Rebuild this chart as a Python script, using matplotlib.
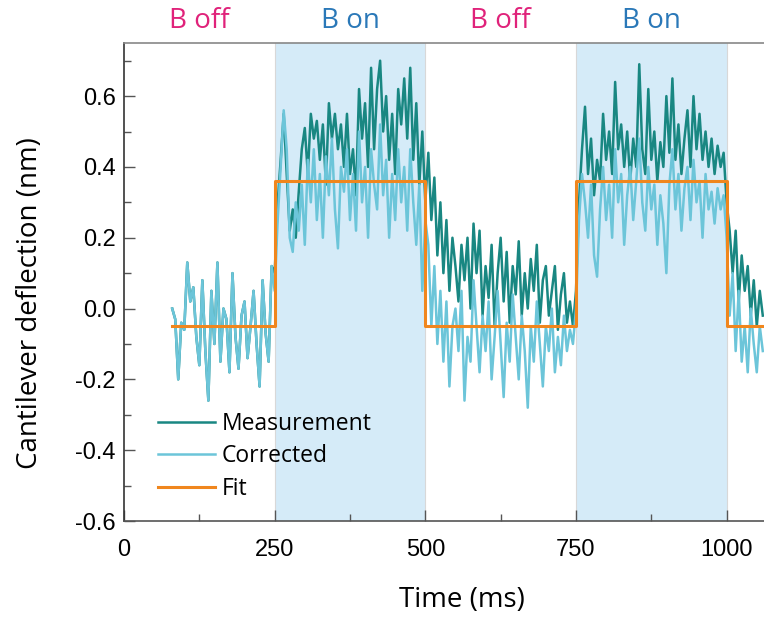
import numpy as np
import matplotlib
matplotlib.use('Agg')
import matplotlib.pyplot as plt
from matplotlib.ticker import MultipleLocator, FixedLocator

plt.rcParams['font.family'] = 'Open Sans'

# sampling grid of the trace (ms)
T_START, T_STOP, T_STEP = 80, 1060, 5
time_ms = np.arange(T_START, T_STOP + 1, T_STEP)

# raw cantilever deflection (nm), one row per 50 ms
measurement = [
    # 80-245 ms, B off
    0.00, -0.03, -0.20, -0.04, -0.06, 0.13, 0.02, 0.06, -0.08, -0.16,
    0.08, -0.12, -0.26, 0.05, -0.10, 0.13, -0.15, 0.00, -0.03, -0.18,
    0.10, -0.08, -0.17, -0.02, 0.02, -0.14, -0.05, 0.05, -0.10, -0.22,
    0.08, -0.07, -0.15, 0.12,
    # 250-495 ms, B on
    0.10, 0.30, 0.42, 0.55, 0.38, 0.22, 0.28, 0.20, 0.33, 0.45,
    0.51, 0.38, 0.55, 0.48, 0.53, 0.42, 0.52, 0.35, 0.58, 0.48,
    0.55, 0.45, 0.52, 0.40, 0.55, 0.38, 0.45, 0.32, 0.62, 0.48,
    0.58, 0.40, 0.68, 0.45, 0.62, 0.70, 0.50, 0.60, 0.42, 0.55,
    0.38, 0.62, 0.52, 0.65, 0.48, 0.68, 0.42, 0.58, 0.35, 0.50,
    # 500-745 ms, B off
    0.30, 0.44, 0.25, 0.37, 0.15, 0.30, 0.10, 0.25, 0.05, 0.20,
    0.12, 0.02, 0.18, 0.08, 0.20, 0.00, 0.24, 0.10, 0.22, -0.02,
    0.12, 0.03, 0.18, -0.05, 0.10, 0.20, 0.02, 0.16, -0.04, 0.12,
    0.04, 0.19, -0.02, 0.10, 0.00, 0.14, 0.05, 0.18, -0.04, 0.08,
    0.12, -0.02, 0.05, 0.12, -0.06, 0.04, 0.10, -0.04, 0.02, -0.05,
    # 750-995 ms, B on
    0.05, 0.30, 0.45, 0.57, 0.38, 0.48, 0.32, 0.42, 0.36, 0.55,
    0.42, 0.50, 0.38, 0.64, 0.45, 0.52, 0.40, 0.50, 0.36, 0.48,
    0.40, 0.69, 0.45, 0.38, 0.62, 0.42, 0.50, 0.36, 0.47, 0.40,
    0.60, 0.44, 0.65, 0.42, 0.52, 0.38, 0.48, 0.56, 0.40, 0.60,
    0.45, 0.55, 0.42, 0.50, 0.40, 0.48, 0.38, 0.46, 0.40, 0.44,
    # 1000-1060 ms, B off
    0.30, 0.22, 0.10, 0.22, 0.02, 0.15, 0.05, 0.12, -0.02, 0.08,
    -0.05, 0.05, -0.02,
]

# drift-corrected deflection (nm)
corrected = [
    # 80-245 ms
    0.00, -0.03, -0.20, -0.04, -0.06, 0.13, 0.02, 0.06, -0.08, -0.16,
    0.08, -0.12, -0.26, 0.05, -0.10, 0.13, -0.15, 0.00, -0.03, -0.18,
    0.10, -0.08, -0.17, -0.02, 0.02, -0.14, -0.05, 0.05, -0.10, -0.22,
    0.08, -0.07, -0.15, 0.12,
    # 250-495 ms
    0.05, 0.25, 0.40, 0.56, 0.45, 0.20, 0.16, 0.30, 0.22, 0.35,
    0.18, 0.42, 0.30, 0.45, 0.25, 0.38, 0.20, 0.43, 0.32, 0.48,
    0.28, 0.17, 0.40, 0.33, 0.45, 0.25, 0.38, 0.22, 0.50, 0.30,
    0.40, 0.20, 0.45, 0.35, 0.28, 0.52, 0.32, 0.42, 0.20, 0.38,
    0.25, 0.45, 0.30, 0.40, 0.22, 0.45, 0.30, 0.18, 0.35, 0.05,
    # 500-745 ms
    0.25, 0.18, -0.05, 0.12, -0.10, 0.05, -0.15, 0.02, -0.22, -0.05,
    0.00, -0.12, 0.05, -0.26, -0.08, -0.15, 0.08, -0.05, -0.18, -0.02,
    -0.12, 0.02, -0.20, -0.08, 0.05, -0.10, -0.25, -0.04, -0.15, 0.04,
    -0.08, -0.20, -0.02, -0.12, -0.28, -0.05, -0.15, 0.02, -0.10, -0.22,
    -0.05, -0.12, 0.00, -0.18, -0.08, -0.16, -0.02, -0.12, -0.06, -0.10,
    # 750-995 ms
    0.00, 0.25, 0.38, 0.30, 0.20, 0.35, 0.15, 0.09, 0.28, 0.40,
    0.25, 0.35, 0.20, 0.45, 0.30, 0.38, 0.18, 0.32, 0.40, 0.25,
    0.36, 0.48, 0.30, 0.22, 0.40, 0.28, 0.35, 0.18, 0.32, 0.24,
    0.10, 0.35, 0.45, 0.28, 0.38, 0.22, 0.34, 0.40, 0.25, 0.42,
    0.30, 0.36, 0.20, 0.38, 0.28, 0.33, 0.24, 0.34, 0.28, 0.32,
    # 1000-1060 ms
    0.20, -0.02, 0.10, -0.12, 0.05, -0.15, -0.05, -0.18, 0.00, -0.10,
    -0.18, -0.05, -0.12,
]

# square-wave fit
fit_edges = [80, 250, 500, 750, 1000, 1060]
fit_levels = [-0.048, 0.36, -0.048, 0.36, -0.048]

# field-on windows and labels
field_on = [(250, 500), (750, 1000)]
phase_labels = ['B off', 'B on', 'B off', 'B on']
phase_centers = [125, 375, 625, 875]

C_MEAS = '#198782'
C_CORR = '#6cc5d9'
C_FIT = '#f0861d'
C_SHADE = '#d5ebf8'
C_OFF = '#e0227a'
C_ON = '#2a78b8'

fig = plt.figure(figsize=(7.64, 6.17), dpi=100)
ax = fig.add_axes([124 / 764, 96 / 617, 1 - 124 / 764, 478 / 617])

for a, b in field_on:
    ax.axvspan(a, b, color=C_SHADE, lw=0, zorder=0)
    for edge in (a, b):
        ax.axvline(edge, color='#d8d8d8', lw=0.8, zorder=0.5)

ax.plot(time_ms, measurement, color=C_MEAS, lw=1.8, label='Measurement', zorder=2)
ax.plot(time_ms, corrected, color=C_CORR, lw=1.8, label='Corrected', zorder=3)
ax.step(fit_edges, fit_levels + fit_levels[-1:], where='post',
        color=C_FIT, lw=2.2, label='Fit', zorder=4)

ax.set_xlim(0, 1062)
ax.set_ylim(-0.6, 0.75)

ax.xaxis.set_major_locator(FixedLocator([0, 250, 500, 750, 1000]))
ax.xaxis.set_minor_locator(MultipleLocator(125))
ax.yaxis.set_major_locator(FixedLocator([-0.6, -0.4, -0.2, 0.0, 0.2, 0.4, 0.6]))
ax.yaxis.set_minor_locator(MultipleLocator(0.1))
ax.set_yticklabels(['-0.6', '-0.4', '-0.2', '0.0', '0.2', '0.4', '0.6'])

ax.tick_params(which='both', direction='in', color='#555555', width=1.0)
ax.tick_params(which='major', length=8, labelsize=17)
ax.tick_params(which='minor', length=5)
ax.tick_params(axis='y', which='major', pad=6)
ax.tick_params(axis='x', which='major', pad=13)
for lbl in ax.get_xticklabels() + ax.get_yticklabels():
    lbl.set_family('Liberation Sans')

ax.spines['right'].set_visible(False)
ax.spines['left'].set_color('#333333')
ax.spines['bottom'].set_color('#555555')
ax.spines['top'].set_color('#888888')
for s in ('left', 'bottom', 'top'):
    ax.spines[s].set_linewidth(1.2)

ax.set_xlabel('Time (ms)', fontsize=20, labelpad=18, x=0.528)
ax.set_ylabel('Cantilever deflection (nm)', fontsize=20, labelpad=22, y=0.455)

for text, xc in zip(phase_labels, phase_centers):
    col = C_OFF if text == 'B off' else C_ON
    ax.text(xc, 1.046, text, color=col, fontsize=20, ha='center', va='center',
            transform=ax.get_xaxis_transform())

ax.legend(loc='upper left', bbox_to_anchor=(0.053, 0.228), frameon=False,
          fontsize=16.5, handlelength=2.5, handletextpad=0.3,
          labelspacing=0.37, borderpad=0, borderaxespad=0)

fig.savefig('out.png', dpi=100, facecolor='white')
